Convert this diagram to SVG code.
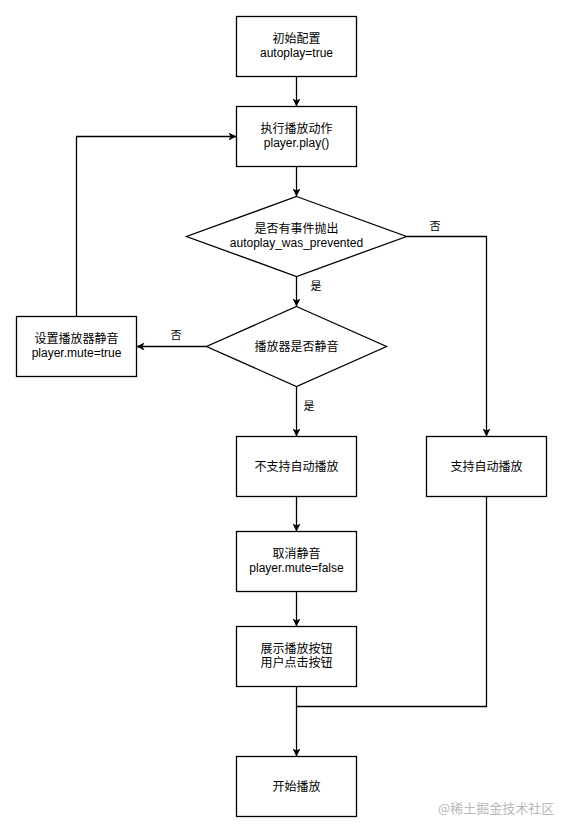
<svg xmlns="http://www.w3.org/2000/svg" width="563" height="833" viewBox="0 0 563 833">
<style>
.box{fill:#fff;stroke:#000;stroke-width:1.3}
.t{font-family:"Liberation Sans","Noto Sans CJK SC",sans-serif;font-size:12px;fill:#000;text-anchor:middle}
.l{font-family:"Liberation Sans","Noto Sans CJK SC",sans-serif;font-size:11px;fill:#000;text-anchor:middle}
.c{fill:none;stroke:#000;stroke-width:1.3}
.wm{font-family:"Noto Sans CJK SC",sans-serif;font-size:13px;fill:#b8b8b8}
</style>
<defs>
<marker id="a" markerWidth="8" markerHeight="8" viewBox="0 0 8 8" refX="8" refY="4" orient="auto" markerUnits="userSpaceOnUse">
<path d="M0,0 L8,4 L0,8 L2,4 z" fill="#000"/>
</marker>
</defs>
<rect width="563" height="833" fill="#fff"/>
<g id="connectors">
<path class="c" d="M296.5,76.5 V106.5" marker-end="url(#a)"/>
<path class="c" d="M296.5,166.5 V196.5" marker-end="url(#a)"/>
<path class="c" d="M296.5,276.5 V306.5" marker-end="url(#a)"/>
<path class="c" d="M206.5,346.5 H136.5" marker-end="url(#a)"/>
<path class="c" d="M76.5,316.5 V136.5 H236.5" marker-end="url(#a)"/>
<path class="c" d="M406.5,236.5 H486.5 V436.5" marker-end="url(#a)"/>
<path class="c" d="M296.5,386.5 V436.5" marker-end="url(#a)"/>
<path class="c" d="M296.5,496.5 V531.5" marker-end="url(#a)"/>
<path class="c" d="M296.5,591.5 V626.5" marker-end="url(#a)"/>
<path class="c" d="M296.5,686.5 V756.5" marker-end="url(#a)"/>
<path class="c" d="M486.5,496.5 V706.5 H296.5"/>
<text class="l" x="435" y="230">否</text>
<text class="l" x="316" y="290">是</text>
<text class="l" x="176" y="339">否</text>
<text class="l" x="309" y="410">是</text>
</g>
<g id="n1"><rect class="box" x="236.5" y="16.5" width="120" height="60"/><text class="t" x="296.5" y="42.5">初始配置</text><text class="t" x="296.5" y="57">autoplay=true</text></g>
<g id="n2"><rect class="box" x="236.5" y="106.5" width="120" height="60"/><text class="t" x="296.5" y="132.5">执行播放动作</text><text class="t" x="296.5" y="147">player.play()</text></g>
<g id="n3"><path class="box" d="M296.5,196.5 L406.5,236.5 L296.5,276.5 L186.5,236.5 Z"/><text class="t" x="296.5" y="232.5">是否有事件抛出</text><text class="t" x="296.5" y="247">autoplay_was_prevented</text></g>
<g id="n4"><path class="box" d="M296.5,306.5 L386.5,346.5 L296.5,386.5 L206.5,346.5 Z"/><text class="t" x="296.5" y="350.5">播放器是否静音</text></g>
<g id="n5"><rect class="box" x="16.5" y="316.5" width="120" height="60"/><text class="t" x="76.5" y="342.5">设置播放器静音</text><text class="t" x="76.5" y="357">player.mute=true</text></g>
<g id="n6"><rect class="box" x="236.5" y="436.5" width="120" height="60"/><text class="t" x="296.5" y="470.5">不支持自动播放</text></g>
<g id="n7"><rect class="box" x="426.5" y="436.5" width="120" height="60"/><text class="t" x="486.5" y="470.5">支持自动播放</text></g>
<g id="n8"><rect class="box" x="236.5" y="531.5" width="120" height="60"/><text class="t" x="296.5" y="557.5">取消静音</text><text class="t" x="296.5" y="572">player.mute=false</text></g>
<g id="n9"><rect class="box" x="236.5" y="626.5" width="120" height="60"/><text class="t" x="296.5" y="652.5">展示播放按钮</text><text class="t" x="296.5" y="667">用户点击按钮</text></g>
<g id="n10"><rect class="box" x="236.5" y="756.5" width="120" height="60"/><text class="t" x="296.5" y="790.5">开始播放</text></g>
<text class="wm" x="438" y="813">@稀土掘金技术社区</text>
</svg>
